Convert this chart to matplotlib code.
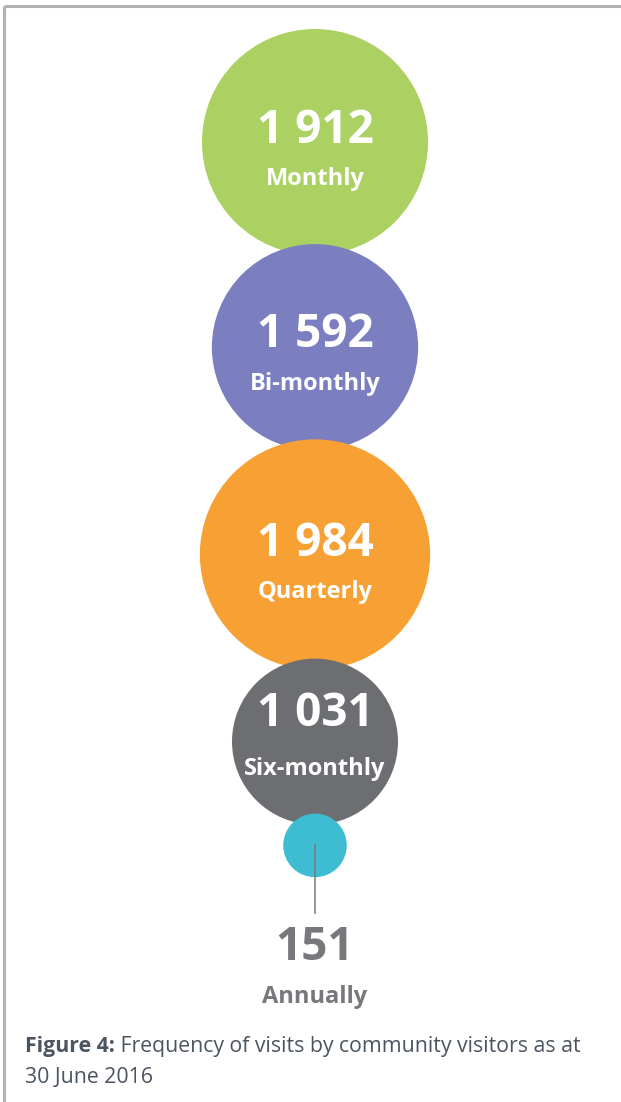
import numpy as np
import matplotlib
matplotlib.use("Agg")
import matplotlib.pyplot as plt
from matplotlib.patches import Circle

# Data
categories = ["Monthly", "Bi-monthly", "Quarterly", "Six-monthly", "Annually"]
values = [1912, 1592, 1984, 1031, 151]
value_labels = ["1 912", "1 592", "1 984", "1 031", "151"]
colors = ["#aad162", "#7b7fc0", "#f7a033", "#6d6e71", "#3ebcd2"]
caption_bold = "Figure 4:"
caption_rest = " Frequency of visits by community visitors as at"
caption_line2 = "30 June 2016"

# text baseline offsets relative to circle centre (style)
num_off = [1, 0, 2, -16]
lab_off = [43, 43, 44, 33]

W, H = 621, 1102
fig = plt.figure(figsize=(W / 100, H / 100), dpi=100)
ax = fig.add_axes([0, 0, 1, 1])
ax.set_xlim(0, W)
ax.set_ylim(H, 0)
ax.axis("off")

# frame lines (top and left)
ax.plot([4, W], [6, 6], color="#b1b1b4", lw=2.2, solid_capstyle="butt")
ax.plot([4, 4], [6, H], color="#b1b1b4", lw=2.2, solid_capstyle="butt")

k = 2.585          # radius scale (area proportional to value)
cx = 315
overlap = 11
top = 29
font = "Open Sans"
NUM_FS = 33
LAB_FS = 17
y = top
for i, (v, lab, cat, col) in enumerate(zip(values, value_labels, categories, colors)):
    r = k * np.sqrt(v)
    cy = y + r
    ax.add_patch(Circle((cx, cy), r, facecolor=col, edgecolor="none", zorder=2 + i))
    if i < len(values) - 1:
        ax.text(cx, cy + num_off[i], lab, ha="center", va="baseline", color="white",
                fontsize=NUM_FS, fontweight="bold", family=font, zorder=10)
        ax.text(cx, cy + lab_off[i], cat, ha="center", va="baseline", color="white",
                fontsize=LAB_FS, fontweight="bold", family=font, zorder=10)
    else:
        ax.plot([cx, cx], [cy, cy + 68], color="#77787b", lw=1.1, zorder=10)
        ax.text(cx, cy + 115, lab, ha="center", va="baseline", color="#77787b",
                fontsize=NUM_FS, fontweight="bold", family=font, zorder=10)
        ax.text(cx, cy + 158, cat, ha="center", va="baseline", color="#77787b",
                fontsize=LAB_FS, fontweight="bold", family=font, zorder=10)
    y = cy + r - overlap

# caption
cap_color = "#4b5461"
CAP_FS = 15.3
t = ax.text(25, 1052, caption_bold, ha="left", va="baseline", color=cap_color,
            fontsize=CAP_FS, fontweight="bold", family=font)
fig.canvas.draw()
bb = t.get_window_extent()
x_end = ax.transData.inverted().transform((bb.x1, bb.y0))[0]
ax.text(x_end, 1052, caption_rest, ha="left", va="baseline", color=cap_color,
        fontsize=CAP_FS, family=font)
ax.text(25, 1083, caption_line2, ha="left", va="baseline", color=cap_color,
        fontsize=CAP_FS, family=font)

fig.savefig("out.png", dpi=100, facecolor="white")
